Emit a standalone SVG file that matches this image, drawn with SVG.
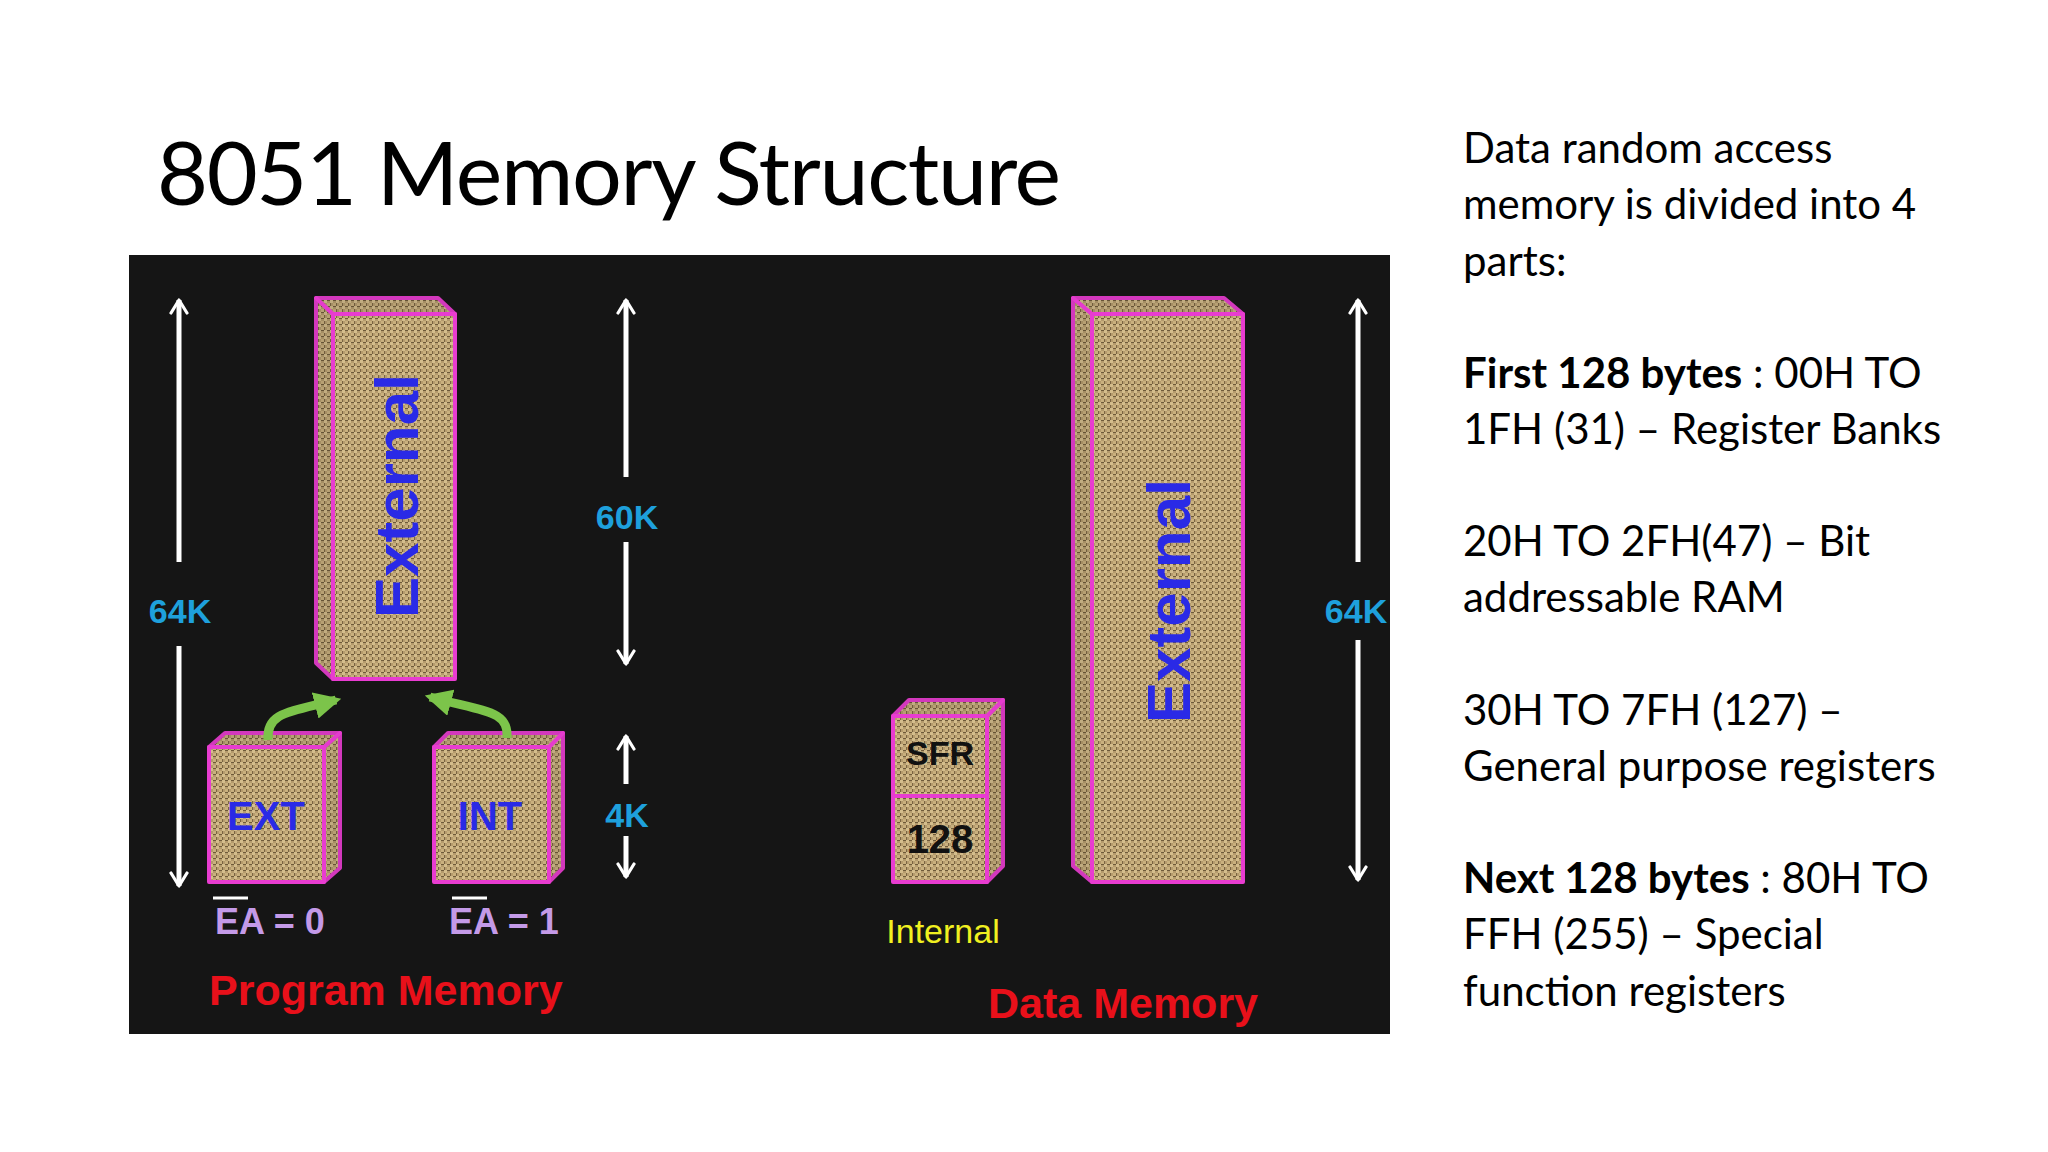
<svg xmlns="http://www.w3.org/2000/svg" width="2048" height="1152" viewBox="0 0 2048 1152">
<defs>
<pattern id="burlap" width="6" height="6" patternUnits="userSpaceOnUse">
<rect width="6" height="6" fill="#b49a6c"/>
<rect x="0" y="0" width="3" height="3" fill="#d4bd8c"/>
<rect x="3" y="3" width="3" height="3" fill="#c9b07e"/>
<rect x="3" y="0" width="3" height="1" fill="#6e5a3a"/>
<rect x="0" y="3" width="1" height="3" fill="#7a6442"/>
</pattern>
<marker id="wh" viewBox="0 0 10 10" refX="8.5" refY="5" markerWidth="4" markerHeight="4" orient="auto-start-reverse" markerUnits="strokeWidth">
<path d="M2,1 L8.5,5 L2,9" fill="none" stroke="#fff" stroke-width="1.6" stroke-linecap="round" stroke-linejoin="round"/>
</marker>
<marker id="gh" viewBox="0 0 10 10" refX="8" refY="5" markerWidth="3" markerHeight="3" orient="auto">
<path d="M0,0 L10,5 L0,10 Z" fill="#7cc44a"/>
</marker>
</defs>
<style>
.face{fill:url(#burlap);stroke:#e83cd0;stroke-width:4;stroke-linejoin:round}
.side{fill:url(#burlap);stroke:#e83cd0;stroke-width:4;stroke-linejoin:round;opacity:0.9}
.lbl{font-family:"Liberation Sans",Arial,sans-serif;font-weight:bold}
.dim{font-family:"Liberation Sans",Arial,sans-serif;font-weight:bold;fill:#1ea0dc;font-size:34px;text-anchor:middle}
.body{font-family:Lato,"Open Sans",sans-serif;font-size:42px;fill:#000}
.arr{stroke:#fff;stroke-width:5;fill:none}
.grn{stroke:#7cc44a;stroke-width:9;fill:none}
</style>
<rect width="2048" height="1152" fill="#fff"/>
<text x="157" y="205" font-family="Lato,'Open Sans',sans-serif" font-size="88" fill="#000" textLength="904">8051 Memory Structure</text>
<rect x="129" y="255" width="1261" height="779" fill="#151515"/>

<g id="prog-external">
<polygon class="side" points="316,298 333,314 333,679 316,663"/>
<polygon class="side" points="316,298 438,298 455,314 333,314"/>
<rect class="face" x="333" y="314" width="122" height="365"/>
<text class="lbl" x="0" y="0" font-size="62" fill="#2a2ae6" text-anchor="middle" transform="translate(418,496) rotate(-90)">External</text>
</g>
<g id="ext-box">
<polygon class="side" points="324,747 340,733 340,868 324,882"/>
<polygon class="side" points="209,747 225,733 340,733 324,747"/>
<rect class="face" x="209" y="747" width="115" height="135"/>
<text class="lbl" x="266" y="830" font-size="40" fill="#2a2ae6" text-anchor="middle">EXT</text>
</g>
<g id="int-box">
<polygon class="side" points="549,747 563,733 563,868 549,882"/>
<polygon class="side" points="434,747 448,733 563,733 549,747"/>
<rect class="face" x="434" y="747" width="115" height="135"/>
<text class="lbl" x="490" y="830" font-size="40" fill="#2a2ae6" text-anchor="middle">INT</text>
</g>
<g id="ea-labels" class="lbl" font-size="36" fill="#c49ae8">
<text x="215" y="934">EA = 0</text>
<line x1="213" y1="898" x2="248" y2="898" stroke="#fff" stroke-width="3"/>
<text x="449" y="934">EA = 1</text>
<line x1="452" y1="898" x2="487" y2="898" stroke="#fff" stroke-width="3"/>
</g>
<text class="lbl" x="209" y="1005" font-size="43" fill="#e8101a">Program Memory</text>

<g id="data-external">
<polygon class="side" points="1073,298 1092,314 1092,882 1073,866"/>
<polygon class="side" points="1073,298 1224,298 1243,314 1092,314"/>
<rect class="face" x="1092" y="314" width="151" height="568"/>
<text class="lbl" x="0" y="0" font-size="62" fill="#2a2ae6" text-anchor="middle" transform="translate(1190,601) rotate(-90)">External</text>
</g>
<g id="internal">
<polygon class="side" points="987,716 1003,700 1003,866 987,882"/>
<polygon class="side" points="893,716 909,700 1003,700 987,716"/>
<rect class="face" x="893" y="716" width="94" height="80"/>
<rect class="face" x="893" y="796" width="94" height="86"/>
<text class="lbl" x="940" y="765" font-size="34" fill="#111" text-anchor="middle">SFR</text>
<text class="lbl" x="940" y="853" font-size="40" fill="#111" text-anchor="middle">128</text>
</g>
<text x="943" y="943" font-family="'Liberation Sans',Arial,sans-serif" font-size="34" fill="#f0f020" text-anchor="middle">Internal</text>
<text class="lbl" x="988" y="1018" font-size="43" fill="#e8101a">Data Memory</text>

<g id="connectors">
<line class="arr" x1="179" y1="300" x2="179" y2="562" marker-start="url(#wh)"/>
<line class="arr" x1="179" y1="646" x2="179" y2="886" marker-end="url(#wh)"/>
<line class="arr" x1="626" y1="300" x2="626" y2="477" marker-start="url(#wh)"/>
<line class="arr" x1="626" y1="542" x2="626" y2="664" marker-end="url(#wh)"/>
<line class="arr" x1="626" y1="736" x2="626" y2="784" marker-start="url(#wh)"/>
<line class="arr" x1="626" y1="836" x2="626" y2="877" marker-end="url(#wh)"/>
<line class="arr" x1="1358" y1="300" x2="1358" y2="562" marker-start="url(#wh)"/>
<line class="arr" x1="1358" y1="640" x2="1358" y2="880" marker-end="url(#wh)"/>
<path class="grn" d="M268,740 C266,712 290,712 336,700" marker-end="url(#gh)"/>
<path class="grn" d="M507,738 C509,710 485,712 430,697" marker-end="url(#gh)"/>
</g>
<text class="dim" x="180" y="623">64K</text>
<text class="dim" x="627" y="529">60K</text>
<text class="dim" x="627" y="827">4K</text>
<text class="dim" x="1356" y="623">64K</text>

<g id="notes" class="body">
<text x="1463" y="163">Data random access</text>
<text x="1463" y="219">memory is divided into 4</text>
<text x="1463" y="276">parts:</text>
<text x="1463" y="388"><tspan font-weight="bold">First 128 bytes</tspan> : 00H TO</text>
<text x="1463" y="444">1FH (31) – Register Banks</text>
<text x="1463" y="556">20H TO 2FH(47) – Bit</text>
<text x="1463" y="612">addressable RAM</text>
<text x="1463" y="725">30H TO 7FH (127) –</text>
<text x="1463" y="781">General purpose registers</text>
<text x="1463" y="893"><tspan font-weight="bold">Next 128 bytes</tspan> : 80H TO</text>
<text x="1463" y="949">FFH (255) – Special</text>
<text x="1463" y="1006">function registers</text>
</g>
</svg>
